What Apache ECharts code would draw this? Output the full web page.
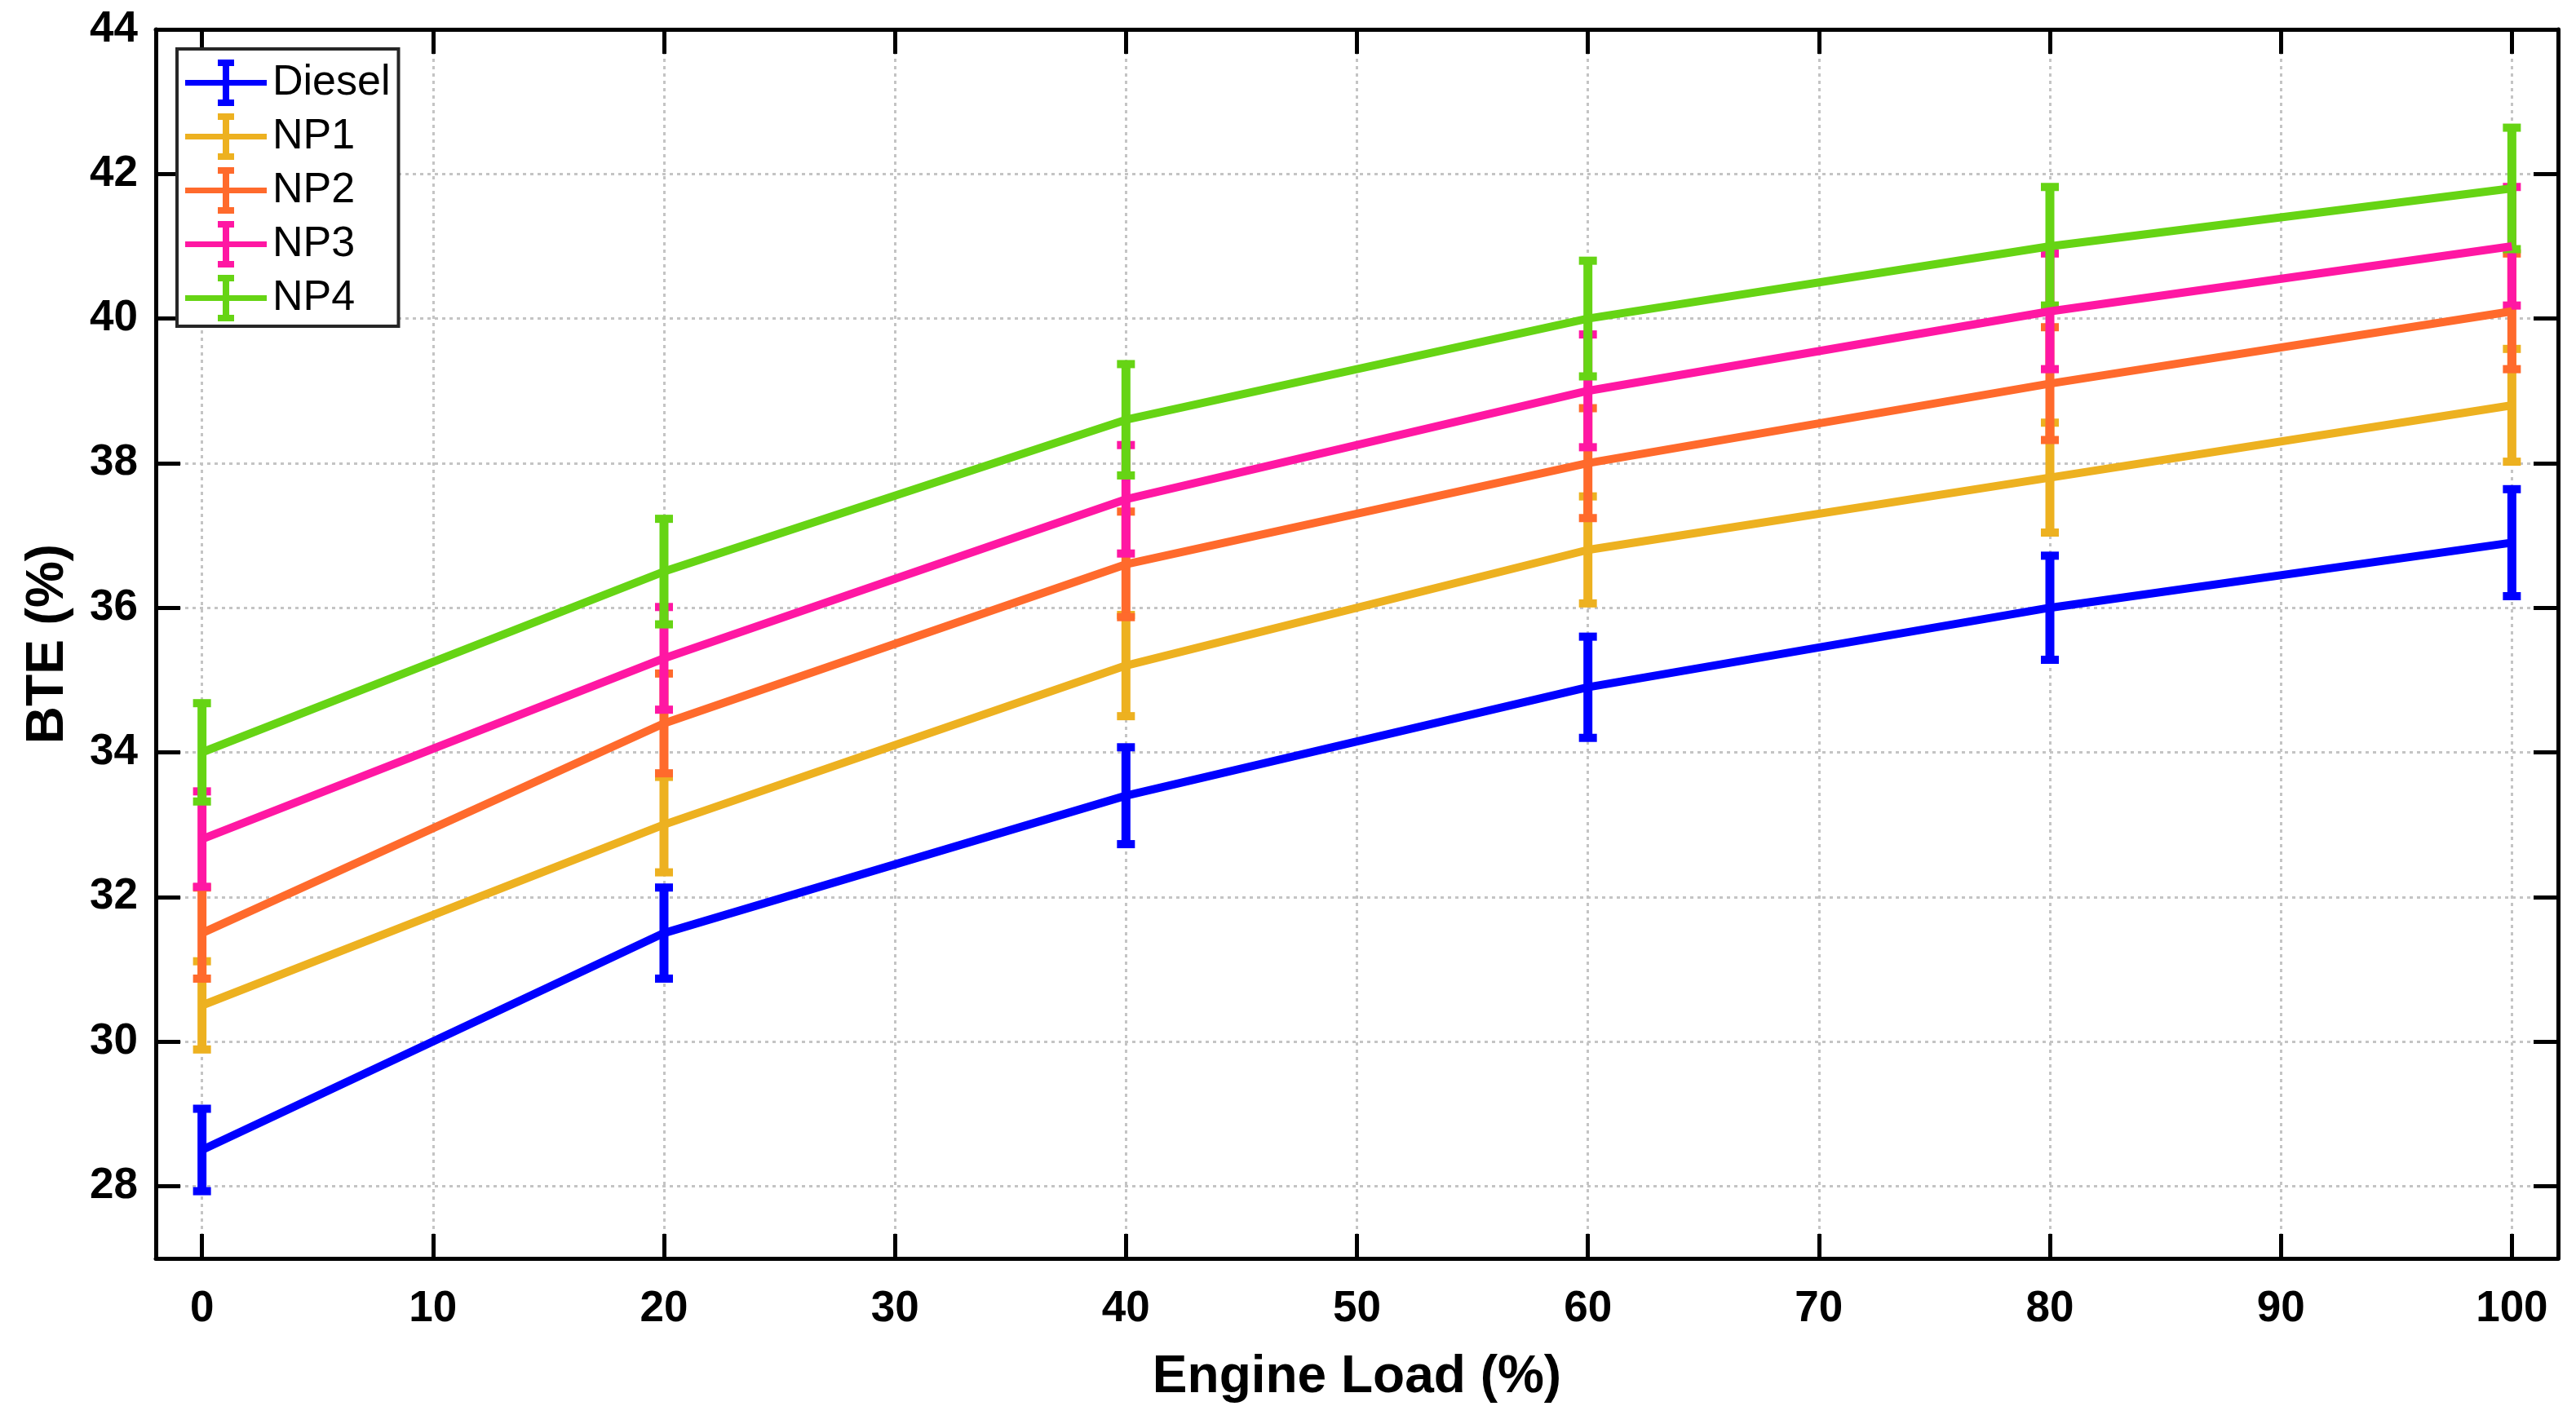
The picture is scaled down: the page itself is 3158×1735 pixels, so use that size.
<!DOCTYPE html>
<html>
<head>
<meta charset="utf-8">
<title>BTE vs Engine Load</title>
<script src="https://cdn.jsdelivr.net/npm/echarts@6/dist/echarts.min.js"></script>
<style>
  html, body { margin: 0; padding: 0; background: #fff; }
  #main { width: 3158px; height: 1735px; }
</style>
</head>
<body>
<div id="main"></div>
<script>
// engine load (%) on the x axis
var loads = [0, 20, 40, 60, 80, 100];
// BTE (%)
var diesel = [28.5, 31.5, 33.4, 34.9, 36.0, 36.9];
var np1 = [30.5, 33.0, 35.2, 36.8, 37.8, 38.8];
var np2 = [31.5, 34.4, 36.6, 38.0, 39.1, 40.1];
var np3 = [32.8, 35.3, 37.5, 39.0, 40.1, 41.0];
var np4 = [34.0, 36.5, 38.6, 40.0, 41.0, 41.8];
// half length of the error bars
var dieselErr = [0.57, 0.63, 0.67, 0.70, 0.72, 0.74];
var np1Err = [0.61, 0.66, 0.70, 0.74, 0.76, 0.78];
var np2Err = [0.63, 0.69, 0.73, 0.76, 0.78, 0.80];
var np3Err = [0.66, 0.71, 0.75, 0.78, 0.80, 0.82];
var np4Err = [0.68, 0.73, 0.77, 0.80, 0.82, 0.84];
// tick labels
var xTicks = [0, 10, 20, 30, 40, 50, 60, 70, 80, 90, 100];
var yTicks = [28, 30, 32, 34, 36, 38, 40, 42, 44];

var groups = [
  { name: 'Diesel', values: diesel, err: dieselErr, color: '#0000FF' },
  { name: 'NP1', values: np1, err: np1Err, color: '#EDB120' },
  { name: 'NP2', values: np2, err: np2Err, color: '#FF6A2C' },
  { name: 'NP3', values: np3, err: np3Err, color: '#FF17A3' },
  { name: 'NP4', values: np4, err: np4Err, color: '#66D414' }
];

var FONT = '"Liberation Sans", Arial, Helvetica, sans-serif';

function renderErr(params, api) {
  var x = api.value(0);
  var pLo = api.coord([x, api.value(1)]);
  var pHi = api.coord([x, api.value(2)]);
  var color = api.visual('color');
  var barW = 11, capW = 22, capH = 10;
  return {
    type: 'group',
    children: [
      { type: 'rect', shape: { x: pLo[0] - barW / 2, y: pHi[1], width: barW, height: pLo[1] - pHi[1] }, style: { fill: color } },
      { type: 'rect', shape: { x: pHi[0] - capW / 2, y: pHi[1] - capH / 2, width: capW, height: capH }, style: { fill: color } },
      { type: 'rect', shape: { x: pLo[0] - capW / 2, y: pLo[1] - capH / 2, width: capW, height: capH }, style: { fill: color } }
    ]
  };
}

var series = [];
groups.forEach(function (g) {
  series.push({
    name: g.name,
    type: 'line',
    data: loads.map(function (x, i) { return [x, g.values[i]]; }),
    symbol: 'none',
    itemStyle: { color: g.color },
    lineStyle: { color: g.color, width: 10 }
  });
  series.push({
    name: g.name,
    type: 'custom',
    renderItem: renderErr,
    itemStyle: { color: g.color },
    data: loads.map(function (x, i) {
      return [x, g.values[i] - g.err[i], g.values[i] + g.err[i]];
    })
  });
});

var axisLine = { show: true, onZero: false, lineStyle: { color: '#000', width: 5 } };
var gridLine = { show: true, lineStyle: { color: '#c4c4c4', width: 3, type: [4, 5] } };

var myChart = echarts.init(document.getElementById('main'));
var option = {
  animation: false,
  backgroundColor: '#fff',
  textStyle: { fontFamily: FONT },
  grid: { left: 191, right: 22, top: 36, bottom: 192, containLabel: false },
  legend: {
    orient: 'vertical',
    left: 217,
    top: 60,
    data: groups.map(function (g) { return g.name; }),
    icon: 'path://M0,25H100V32H0Z M46,0H54V57H46Z M40,0H60V8H40Z M40,49H60V57H40Z',
    itemWidth: 100,
    itemHeight: 57,
    itemGap: 9,
    padding: [13, 10, 6, 10],
    backgroundColor: '#fff',
    borderColor: '#262626',
    borderWidth: 4,
    itemStyle: { borderWidth: 0 },
    textStyle: { color: '#000', fontSize: 52, fontFamily: FONT, padding: [0, 0, 0, 2] }
  },
  xAxis: [{
    type: 'value',
    min: -2,
    max: 102,
    name: 'Engine Load (%)',
    nameLocation: 'middle',
    nameGap: 114,
    nameTextStyle: { color: '#000', fontSize: 64, fontWeight: 'bold', fontFamily: FONT },
    axisLine: axisLine,
    axisTick: { show: true, inside: true, length: 30, lineStyle: { color: '#000', width: 5 }, customValues: xTicks },
    axisLabel: { color: '#000', fontSize: 53, fontWeight: 'bold', margin: 36, customValues: xTicks },
    splitLine: gridLine
  }, {
    type: 'value',
    position: 'top',
    min: -2,
    max: 102,
    axisLine: axisLine,
    axisTick: { show: true, inside: true, length: 30, lineStyle: { color: '#000', width: 5 }, customValues: xTicks },
    axisLabel: { show: false, customValues: xTicks },
    splitLine: { show: false }
  }],
  yAxis: [{
    type: 'value',
    min: 27,
    max: 44,
    name: 'BTE (%)',
    nameLocation: 'middle',
    nameGap: 100,
    nameTextStyle: { color: '#000', fontSize: 64, fontWeight: 'bold', fontFamily: FONT },
    axisLine: axisLine,
    axisTick: { show: true, inside: true, length: 30, lineStyle: { color: '#000', width: 5 }, customValues: yTicks },
    axisLabel: { color: '#000', fontSize: 53, fontWeight: 'bold', margin: 22, customValues: yTicks },
    splitLine: gridLine
  }, {
    type: 'value',
    position: 'right',
    min: 27,
    max: 44,
    axisLine: axisLine,
    axisTick: { show: true, inside: true, length: 30, lineStyle: { color: '#000', width: 5 }, customValues: yTicks },
    axisLabel: { show: false, customValues: yTicks },
    splitLine: { show: false }
  }],
  series: series
};
myChart.setOption(option);
</script>
</body>
</html>
